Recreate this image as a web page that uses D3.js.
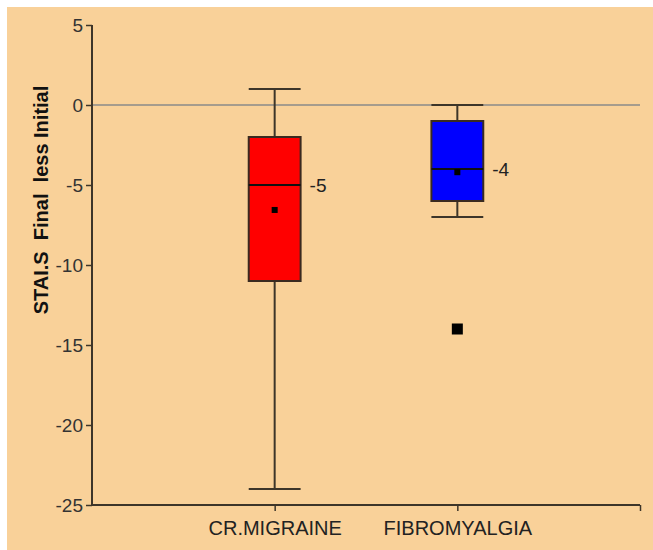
<!DOCTYPE html>
<html>
<head>
<meta charset="utf-8">
<script src="https://cdn.jsdelivr.net/npm/d3@7"></script>
<style>
html,body{margin:0;padding:0;background:#fff;}
svg{display:block;}
text{font-family:Arial,"Liberation Sans",sans-serif;}
</style>
</head>
<body>
<script>
// ---- data ----
const categories = ["CR.MIGRAINE", "FIBROMYALGIA"];
const whiskerHigh = [1, 0];
const q3 = [-2, -1];
const median = [-5, -4];
const q1 = [-11, -6];
const whiskerLow = [-24, -7];
const means = [-6.56, -4.2];
const medianLabels = ["-5", "-4"];
const outliers = [[], [-14]];
const yTicks = [5, 0, -5, -10, -15, -20, -25];
const yLabel = "STAI.S\u00a0\u00a0Final\u00a0\u00a0less Initial";

const W = 653, H = 550;
const svg = d3.select("body").append("svg").attr("width", W).attr("height", H);
svg.append("rect").attr("x", 7).attr("y", 7).attr("width", W - 7).attr("height", H - 7).attr("fill", "#F9D199");

const x = d3.scaleLinear().domain([0, 3]).range([92, 640]);
const y = d3.scaleLinear().domain([-25, 5]).range([505, 25]);
const halfW = 0.142;
const axisColor = "#3d3529";

// zero line
svg.append("line").attr("x1", x(0)).attr("x2", x(3)).attr("y1", y(0)).attr("y2", y(0))
  .attr("stroke", "#8a8a8a").attr("stroke-width", 1.5);

// y axis
const yAxis = svg.append("g").attr("transform", `translate(${x(0)},0)`)
  .call(d3.axisLeft(y).tickValues(yTicks).tickSize(6).tickPadding(3).tickFormat(d => String(d)));
yAxis.select(".domain").attr("stroke", axisColor).attr("stroke-width", 2).attr("d", `M0,${y(5)}V${y(-25)}`);
yAxis.selectAll(".tick line").attr("stroke", axisColor).attr("stroke-width", 1.5);
yAxis.selectAll(".tick text").attr("font-size", 19).attr("fill", "#333").style("font-family", "Arial, 'Liberation Sans', sans-serif");

// x axis
const xAxis = svg.append("g").attr("transform", `translate(0,${y(-25)})`)
  .call(d3.axisBottom(x).tickValues([1, 2, 3]).tickSize(6).tickPadding(6)
    .tickFormat(d => d <= categories.length ? categories[d - 1] : ""));
xAxis.select(".domain").attr("stroke", axisColor).attr("stroke-width", 2).attr("d", `M${x(0)},0H${x(3)}`);
xAxis.selectAll(".tick line").attr("stroke", axisColor).attr("stroke-width", 1.5);
xAxis.selectAll(".tick text").attr("font-size", 20).attr("fill", "#222").attr("dy", "0.9em")
  .style("font-family", "Arial, 'Liberation Sans', sans-serif");

// y label
svg.append("text").attr("transform", `translate(48,${200}) rotate(-90)`)
  .attr("text-anchor", "middle").attr("font-size", 20).attr("font-weight", "bold").attr("fill", "#111")
  .text(yLabel);

const colors = ["#FF0000", "#0000FF"];
categories.forEach((c, i) => {
  const cx = i + 1;
  const g = svg.append("g");
  // whiskers
  g.append("line").attr("x1", x(cx)).attr("x2", x(cx)).attr("y1", y(whiskerHigh[i])).attr("y2", y(q3[i]))
    .attr("stroke", axisColor).attr("stroke-width", 2);
  g.append("line").attr("x1", x(cx)).attr("x2", x(cx)).attr("y1", y(q1[i])).attr("y2", y(whiskerLow[i]))
    .attr("stroke", axisColor).attr("stroke-width", 2);
  [whiskerHigh[i], whiskerLow[i]].forEach(v => {
    g.append("line").attr("x1", x(cx - halfW)).attr("x2", x(cx + halfW)).attr("y1", y(v)).attr("y2", y(v))
      .attr("stroke", axisColor).attr("stroke-width", 2);
  });
  // box
  g.append("rect").attr("x", x(cx - halfW)).attr("width", x(cx + halfW) - x(cx - halfW))
    .attr("y", y(q3[i])).attr("height", y(q1[i]) - y(q3[i]))
    .attr("fill", colors[i]).attr("stroke", "#3a2a20").attr("stroke-width", 2);
  // median
  g.append("line").attr("x1", x(cx - halfW)).attr("x2", x(cx + halfW)).attr("y1", y(median[i])).attr("y2", y(median[i]))
    .attr("stroke", "#111").attr("stroke-width", 2);
  // mean
  g.append("rect").attr("x", x(cx) - 3).attr("y", y(means[i]) - 3).attr("width", 6).attr("height", 6).attr("fill", "#000");
  // outliers
  outliers[i].forEach(v => {
    g.append("rect").attr("x", x(cx) - 5.5).attr("y", y(v) - 5.5).attr("width", 11).attr("height", 11).attr("fill", "#000");
  });
  // median label
  g.append("text").attr("x", x(cx + halfW) + 9).attr("y", y(median[i])).attr("dy", "0.35em")
    .attr("font-size", 19).attr("fill", "#222").text(medianLabels[i]);
});
</script>
</body>
</html>
